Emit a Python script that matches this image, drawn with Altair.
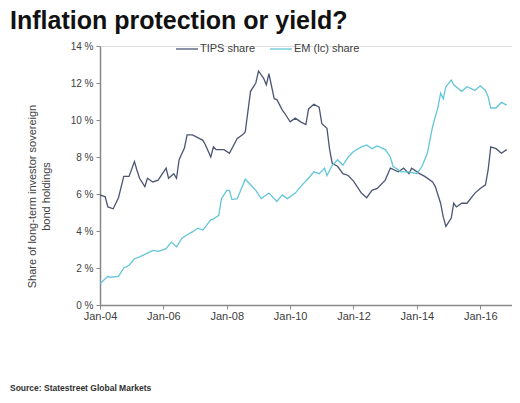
import altair as alt
import pandas as pd

tips_dates = ["2004-01","2004-03","2004-04","2004-06","2004-08","2004-10","2004-12",
              "2005-02","2005-03","2005-04","2005-06","2005-07","2005-09","2005-11",
              "2006-02","2006-03","2006-05","2006-06","2006-07","2006-09","2006-10","2006-12",
              "2007-02","2007-04","2007-05","2007-07","2007-08","2007-09","2007-12",
              "2008-02","2008-05","2008-07","2008-08","2008-10","2008-12",
              "2009-01","2009-03","2009-04","2009-05","2009-07","2009-08","2009-10","2009-11",
              "2010-01","2010-03","2010-05","2010-07","2010-08","2010-10","2010-12",
              "2011-01","2011-03","2011-04","2011-05","2011-07","2011-09","2011-11",
              "2012-01","2012-04","2012-06","2012-08","2012-10",
              "2013-01","2013-03","2013-06","2013-08","2013-10","2013-11",
              "2014-02","2014-04","2014-07","2014-08","2014-10","2014-11","2014-12",
              "2015-02","2015-03","2015-04","2015-06","2015-08","2015-11",
              "2016-01","2016-03","2016-04","2016-05","2016-07","2016-09","2016-11"]
tips_vals = [5.95,5.85,5.3,5.2,5.8,6.95,6.95,
             7.75,7.3,6.85,6.4,6.85,6.65,6.75,
             7.4,6.85,7.1,6.85,7.85,8.5,9.2,9.2,
             9.05,8.9,8.65,8.0,8.55,8.4,8.4,
             8.2,9.0,9.2,9.35,11.55,12.0,
             12.65,12.25,11.9,12.5,11.15,11.1,10.55,10.35,
             9.9,10.1,9.9,9.75,10.6,10.85,10.7,
             9.8,9.55,8.4,7.65,7.5,7.1,7.0,
             6.7,6.05,5.8,6.2,6.3,
             6.75,7.4,7.2,7.4,7.1,7.4,
             7.1,6.95,6.65,6.4,5.5,4.75,4.25,
             4.7,5.5,5.3,5.5,5.5,6.05,
             6.3,6.5,7.3,8.55,8.45,8.2,8.4]

em_dates = ["2004-01","2004-04","2004-05","2004-08","2004-10","2004-12",
            "2005-02","2005-04","2005-07","2005-09","2005-11",
            "2006-02","2006-04","2006-06","2006-08","2006-10","2006-12",
            "2007-02","2007-04","2007-07","2007-08","2007-10","2007-11",
            "2008-01","2008-02","2008-03","2008-05","2008-08","2008-09","2008-12",
            "2009-02","2009-05","2009-08","2009-10","2009-12",
            "2010-03","2010-05","2010-08","2010-10","2010-12",
            "2011-02","2011-03","2011-05","2011-07","2011-09","2011-11",
            "2012-01","2012-04","2012-06","2012-08","2012-10",
            "2013-01","2013-03","2013-04","2013-07","2013-10",
            "2014-01","2014-03","2014-05","2014-07","2014-09","2014-10","2014-11","2014-12",
            "2015-02","2015-03","2015-06","2015-08","2015-11",
            "2016-01","2016-03","2016-04","2016-05","2016-07","2016-09","2016-11"]
em_vals = [1.15,1.55,1.5,1.55,2.0,2.15,
           2.5,2.6,2.8,2.95,2.9,
           3.05,3.4,3.15,3.6,3.8,3.95,
           4.15,4.05,4.6,4.65,4.85,5.75,
           6.2,6.2,5.7,5.75,6.8,6.65,6.2,
           5.75,6.05,5.6,5.95,5.75,
           6.05,6.4,6.85,7.2,7.1,
           7.4,7.0,7.55,7.85,7.55,8.0,
           8.3,8.55,8.65,8.45,8.6,
           8.4,8.0,7.5,7.2,7.2,
           7.1,7.5,8.2,9.65,10.7,11.45,11.15,11.8,
           12.15,11.9,11.55,11.8,11.6,
           11.85,11.6,11.25,10.65,10.65,10.95,10.8]

series_names = ["TIPS share", "EM (lc) share"]
series_colors = ["#4a5674", "#62c6d8"]
y_ticks = [0, 2, 4, 6, 8, 10, 12, 14]
x_tick_years = [2004, 2006, 2008, 2010, 2012, 2014, 2016]

df = pd.concat([
    pd.DataFrame({"date": pd.to_datetime(tips_dates), "value": tips_vals, "series": series_names[0]}),
    pd.DataFrame({"date": pd.to_datetime(em_dates), "value": em_vals, "series": series_names[1]}),
])

FONT = "Liberation Sans"
GREY = "#404040"

lines = alt.Chart(df).mark_line(strokeWidth=1.3).encode(
    x=alt.X("date:T",
            scale=alt.Scale(domain=[alt.DateTime(year=2004, month=1, date=1),
                                    alt.DateTime(year=2017, month=1, date=1)], nice=False),
            axis=alt.Axis(values=[alt.DateTime(year=y, month=1, date=1) for y in x_tick_years],
                          format="%b-%y", title=None, grid=False, labelFlush=False,
                          labelFontSize=11, labelColor=GREY, labelFont=FONT,
                          tickSize=4, tickColor="#888888", domainColor="#888888",
                          domainWidth=1.5, labelPadding=1)),
    y=alt.Y("value:Q",
            scale=alt.Scale(domain=[0, 14], nice=False),
            axis=alt.Axis(values=y_ticks, labelExpr="datum.value + ' %'",
                          title=["Share of long-term investor sovereign", "bond holdings"],
                          titleFontSize=11, titleFontWeight="normal", titleColor=GREY,
                          titleFont=FONT, titleY=150, titlePadding=19, titleLineHeight=14,
                          grid=False, labelFontSize=10, labelColor=GREY, labelFont=FONT,
                          labelFlush=False,
                          tickSize=4, tickColor="#888888", domainColor="#888888",
                          domainWidth=1.5, labelPadding=3)),
    color=alt.Color("series:N",
                    scale=alt.Scale(domain=series_names, range=series_colors),
                    legend=alt.Legend(orient="none", legendX=75, legendY=-9,
                                      direction="horizontal", title=None,
                                      symbolType="stroke", symbolSize=484,
                                      symbolStrokeWidth=1.3, labelFontSize=11,
                                      labelColor=GREY, labelFont=FONT,
                                      labelOffset=1, columnPadding=11, padding=0)),
)

source = alt.Chart(pd.DataFrame({"t": ["Source: Statestreet Global Markets"]})).mark_text(
    align="left", baseline="middle", fontSize=8.5, fontWeight="bold", font=FONT, color="#303030"
).encode(x=alt.value(-90), y=alt.value(342), text="t:N")

chart = alt.layer(lines, source).properties(
    width=412, height=259,
    padding={"left": 92, "top": 38, "right": 0, "bottom": 89},
    autosize=alt.AutoSizeParams(type="none"),
    title=alt.Title("Inflation protection or yield?", anchor="start", frame="group",
                    dx=-90, fontSize=25, fontWeight="bold", font=FONT, color="#111111",
                    offset=3),
).configure_view(stroke=None).configure(background="white")

chart.save("out.html", embed_options={"renderer": "svg", "actions": False})
